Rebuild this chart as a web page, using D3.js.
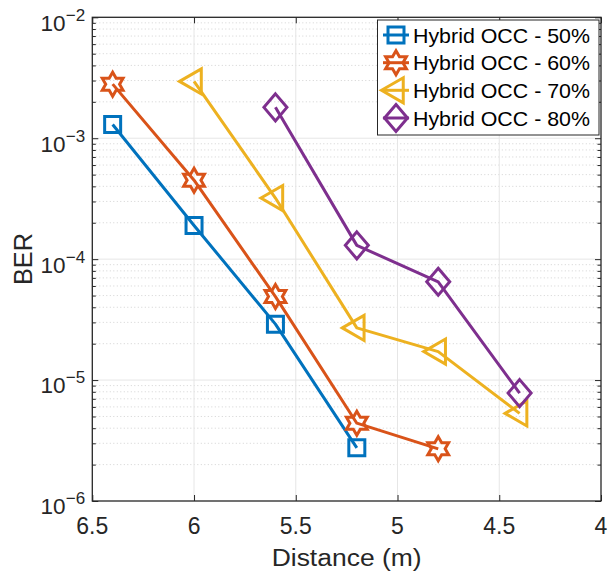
<!DOCTYPE html>
<html>
<head>
<meta charset="utf-8">
<script src="https://cdn.jsdelivr.net/npm/d3@7"></script>
<style>
  html, body { margin: 0; padding: 0; background: #fff; }
  svg { display: block; font-family: "Liberation Sans", Arial, Helvetica, sans-serif; }
</style>
</head>
<body>
<svg id="chart" width="608" height="574"></svg>
<script>
// ---- data ----
const seriesNames = ["Hybrid OCC - 50%", "Hybrid OCC - 60%", "Hybrid OCC - 70%", "Hybrid OCC - 80%"];
const dist50 = [6.4, 6.0, 5.6, 5.2];
const ber50  = [1.3e-3, 1.9e-4, 2.9e-5, 2.75e-6];
const dist60 = [6.4, 6.0, 5.6, 5.2, 4.8];
const ber60  = [2.8e-3, 4.5e-4, 4.9e-5, 4.4e-6, 2.7e-6];
const dist70 = [6.0, 5.6, 5.2, 4.8, 4.4];
const ber70  = [2.95e-3, 3.2e-4, 2.7e-5, 1.72e-5, 5.3e-6];
const dist80 = [5.6, 5.2, 4.8, 4.4];
const ber80  = [1.8e-3, 1.3e-4, 6.5e-5, 7.8e-6];
const xTicks = [6.5, 6, 5.5, 5, 4.5, 4];
const xTickLabels = ["6.5", "6", "5.5", "5", "4.5", "4"];
const yTicks = [1e-6, 1e-5, 1e-4, 1e-3, 1e-2];
const yTickExps = ["\u22126", "\u22125", "\u22124", "\u22123", "\u22122"];
const xLabel = "Distance (m)";
const yLabel = "BER";

const colors = ["#0072BD", "#D95319", "#EDB120", "#7E2F8E"];
const markers = ["square", "hexagram", "triangleLeft", "diamond"];
const series = [
  { name: seriesNames[0], x: dist50, y: ber50 },
  { name: seriesNames[1], x: dist60, y: ber60 },
  { name: seriesNames[2], x: dist70, y: ber70 },
  { name: seriesNames[3], x: dist80, y: ber80 }
];

// ---- layout ----
const L = 92.3, R = 601, T = 17.3, B = 501;
const axisColor = "#262626";
const svg = d3.select("#chart");

const x = d3.scaleLinear().domain([6.5, 4]).range([L, R]);
const y = d3.scaleLog().domain([1e-6, 1e-2]).range([B, T]);

// grid
const grid = svg.append("g");
const minorVals = [];
for (let e = -6; e < -2; e++) {
  for (let m = 2; m <= 9; m++) minorVals.push(m * Math.pow(10, e));
}
grid.selectAll(".yminor").data(minorVals).enter().append("line")
  .attr("x1", L).attr("x2", R)
  .attr("y1", d => y(d)).attr("y2", d => y(d))
  .attr("stroke", "#c8c8c8").attr("stroke-width", 0.8)
  .attr("stroke-dasharray", "1,2.5");
grid.selectAll(".ymajor").data(yTicks.slice(1, -1)).enter().append("line")
  .attr("x1", L).attr("x2", R)
  .attr("y1", d => y(d)).attr("y2", d => y(d))
  .attr("stroke", "#e6e6e6").attr("stroke-width", 1);
grid.selectAll(".xmajor").data(xTicks.slice(1, -1)).enter().append("line")
  .attr("y1", T).attr("y2", B)
  .attr("x1", d => x(d)).attr("x2", d => x(d))
  .attr("stroke", "#e6e6e6").attr("stroke-width", 1);

// axes (ticks inside)
const axG = svg.append("g");
function styleAxis(g) {
  g.select(".domain").remove();
  g.selectAll("text").remove();
  g.selectAll("line").attr("stroke", axisColor).attr("stroke-width", 1);
}
axG.append("g").attr("transform", `translate(0,${B})`)
  .call(d3.axisBottom(x).tickValues(xTicks).tickSize(-6).tickFormat(""))
  .call(styleAxis);
axG.append("g").attr("transform", `translate(0,${T})`)
  .call(d3.axisTop(x).tickValues(xTicks).tickSize(-6).tickFormat(""))
  .call(styleAxis);
axG.append("g").attr("transform", `translate(${L},0)`)
  .call(d3.axisLeft(y).tickValues(yTicks).tickSize(-6).tickFormat(""))
  .call(styleAxis);
axG.append("g").attr("transform", `translate(${R},0)`)
  .call(d3.axisRight(y).tickValues(yTicks).tickSize(-6).tickFormat(""))
  .call(styleAxis);
axG.append("g").attr("transform", `translate(${L},0)`)
  .call(d3.axisLeft(y).tickValues(minorVals).tickSize(-3.5).tickFormat(""))
  .call(styleAxis);
axG.append("g").attr("transform", `translate(${R},0)`)
  .call(d3.axisRight(y).tickValues(minorVals).tickSize(-3.5).tickFormat(""))
  .call(styleAxis);

// box
svg.append("rect").attr("x", L).attr("y", T).attr("width", R - L).attr("height", B - T)
  .attr("fill", "none").attr("stroke", axisColor).attr("stroke-width", 1.3);

// tick labels
svg.append("g").selectAll("text").data(xTicks).enter().append("text")
  .attr("x", d => x(d)).attr("y", 533.5)
  .attr("text-anchor", "middle").attr("font-size", 23).attr("fill", axisColor)
  .text((d, i) => xTickLabels[i]);
const yl = svg.append("g");
yl.selectAll(".base").data(yTicks).enter().append("text")
  .attr("x", 65.5).attr("y", d => y(d) + 13.4)
  .attr("text-anchor", "end").attr("font-size", 22.5).attr("fill", axisColor)
  .text("10");
yl.selectAll(".exp").data(yTicks).enter().append("text")
  .attr("x", 65.8).attr("y", d => y(d) + 3.4)
  .attr("text-anchor", "start").attr("font-size", 17).attr("fill", axisColor)
  .text((d, i) => yTickExps[i]);

// axis labels
svg.append("text").attr("x", (L + R) / 2).attr("y", 566)
  .attr("text-anchor", "middle").attr("font-size", 23).attr("fill", axisColor)
  .attr("textLength", 150).attr("lengthAdjust", "spacingAndGlyphs")
  .text(xLabel);
svg.append("text").attr("transform", "translate(31.5,259) rotate(-90)")
  .attr("text-anchor", "middle").attr("font-size", 26).attr("fill", axisColor)
  .attr("textLength", 52).attr("lengthAdjust", "spacingAndGlyphs")
  .text(yLabel);

// marker paths
function markerPath(type) {
  const p = d3.path();
  if (type === "square") {
    const h = 8;
    p.rect(-h, -h, 2 * h, 2 * h);
  } else if (type === "hexagram") {
    const Ro = 12, Ri = Ro / Math.sqrt(3);
    for (let k = 0; k < 12; k++) {
      const r = k % 2 === 0 ? Ro : Ri;
      const a = -Math.PI / 2 + k * Math.PI / 6;
      const px = r * Math.cos(a), py = r * Math.sin(a);
      if (k === 0) p.moveTo(px, py); else p.lineTo(px, py);
    }
    p.closePath();
  } else if (type === "triangleLeft") {
    const Rt = 14.5;
    p.moveTo(-Rt, 0);
    p.lineTo(Rt / 2, -Rt * Math.sqrt(3) / 2);
    p.lineTo(Rt / 2, Rt * Math.sqrt(3) / 2);
    p.closePath();
  } else if (type === "diamond") {
    const w = 11.5, hh = 13.5;
    p.moveTo(0, -hh); p.lineTo(w, 0); p.lineTo(0, hh); p.lineTo(-w, 0); p.closePath();
  }
  return p.toString();
}

// series
const lineGen = d3.line().x(d => x(d[0])).y(d => y(d[1]));
const plotG = svg.append("g");
series.forEach((s, i) => {
  const pts = s.x.map((v, j) => [v, s.y[j]]);
  const g = plotG.append("g");
  g.append("path").attr("d", lineGen(pts))
    .attr("fill", "none").attr("stroke", colors[i]).attr("stroke-width", 3)
    .attr("stroke-linejoin", "round");
  g.selectAll("path.m").data(pts).enter().append("path").attr("class", "m")
    .attr("transform", d => `translate(${x(d[0])},${y(d[1])})`)
    .attr("d", markerPath(markers[i]))
    .attr("fill", "none").attr("stroke", colors[i]).attr("stroke-width", 3)
    .attr("stroke-linejoin", "miter");
});

// legend
const lg = svg.append("g");
lg.append("rect").attr("x", 377.5).attr("y", 20).attr("width", 221.5).attr("height", 115)
  .attr("fill", "#fff").attr("stroke", axisColor).attr("stroke-width", 1);
const legY = [35, 62.7, 90.3, 118];
series.forEach((s, i) => {
  const cy = legY[i];
  lg.append("line").attr("x1", 383).attr("x2", 409).attr("y1", cy).attr("y2", cy)
    .attr("stroke", colors[i]).attr("stroke-width", 3);
  lg.append("path").attr("transform", `translate(396,${cy})`)
    .attr("d", markerPath(markers[i]))
    .attr("fill", "none").attr("stroke", colors[i]).attr("stroke-width", 3);
  lg.append("text").attr("x", 413).attr("y", cy + 7.5)
    .attr("font-size", 21).attr("fill", "#000")
    .attr("textLength", 177).attr("lengthAdjust", "spacingAndGlyphs")
    .text(s.name);
});
</script>
</body>
</html>
